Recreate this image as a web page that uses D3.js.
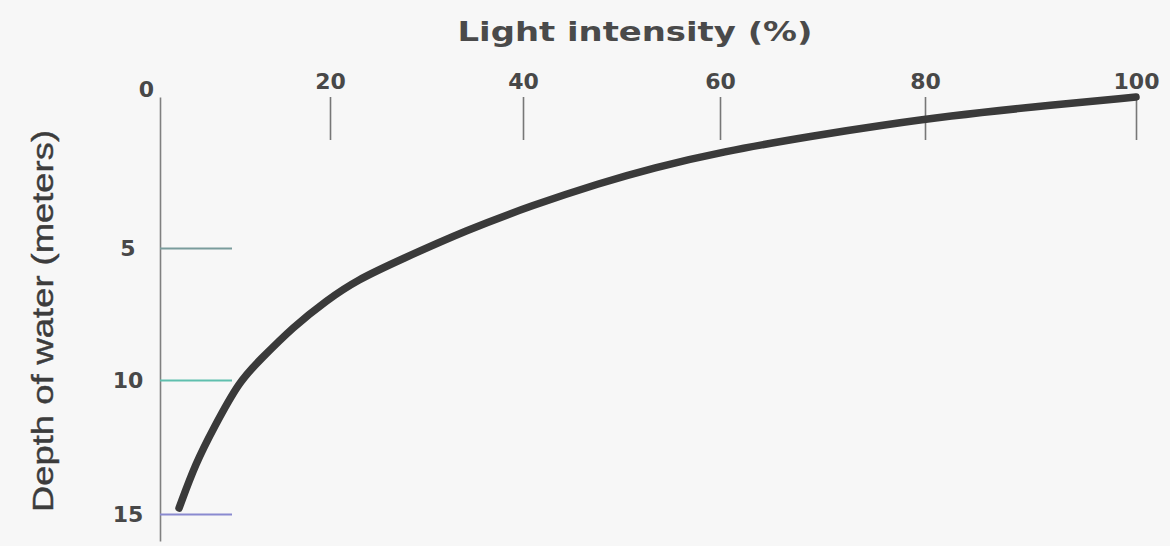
<!DOCTYPE html>
<html><head><meta charset="utf-8">
<script src="https://cdn.jsdelivr.net/npm/d3@7"></script>
<style>body{margin:0;background:#f7f7f7}svg{display:block}</style>
</head><body><svg id="c" width="1170" height="546"></svg>
<script>
// ---- data ----
const intensityTicks = [0, 20, 40, 60, 80, 100];
const depthTicks = [5, 10, 15];
const intensity = [100, 90.2, 82.2, 75.9, 69.5, 60, 53.2, 47.8, 41.0, 34.2, 27.25, 22.8, 19.65, 15.65, 11.76, 9.3, 6.3, 4.2, 2.24];
const depth     = [0,   0.33, 0.63, 0.93, 1.26, 1.82, 2.35, 2.85, 3.58, 4.40, 5.45, 6.21, 6.97, 7.99, 9.24, 10.05, 11.8, 13.10, 14.78];
const xTitle = "Light intensity (%)";
const yTitle = "Depth of water (meters)";

// ---- layout ----
const svg = d3.select("#c");
svg.append("rect").attr("width", 1170).attr("height", 546).attr("fill", "#f7f7f7");

// scanned original has slightly uneven spacing: piecewise scales
const x = d3.scaleLinear().domain([0, 20, 40, 60, 80, 100]).range([160, 330, 523, 720, 925, 1136]);
const y = d3.scaleLinear().domain([0, 5, 10, 15, 16]).range([97, 248, 380, 514, 541]);

const defs = svg.append("defs");
const grad = defs.append("linearGradient").attr("id", "xg").attr("x1", "0%").attr("x2", "100%");
grad.append("stop").attr("offset", "0%").attr("stop-color", "#b89a98");
grad.append("stop").attr("offset", "50%").attr("stop-color", "#b0a4a0");
grad.append("stop").attr("offset", "100%").attr("stop-color", "#98b8a0");

// x axis (top)
const xAxis = d3.axisTop(x).tickValues(intensityTicks).tickSizeInner(-43).tickSizeOuter(0).tickPadding(8);
const gx = svg.append("g").attr("transform", `translate(0,${y(0)})`).call(xAxis);
gx.select(".domain").attr("stroke", "url(#xg)").attr("stroke-width", 1.6);
gx.selectAll(".tick line").attr("stroke", "#777").attr("stroke-width", 1.6)
  .filter(d => d === 0).remove();
gx.selectAll(".tick text")
  .attr("font-family", "DejaVu Sans, sans-serif").attr("font-weight", "bold")
  .attr("font-size", 22).attr("fill", "#484848");
gx.selectAll(".tick").filter(d => d === 0).select("text")
  .attr("transform", "translate(-14,8)");

// y axis (left)
const yAxis = d3.axisLeft(y).tickValues(depthTicks).tickSizeInner(-72).tickSizeOuter(0).tickPadding(0);
const gy = svg.append("g").attr("transform", `translate(${x(0)},0)`).call(yAxis);
gy.select(".domain").attr("stroke", "#808080").attr("stroke-width", 1.6);
const tickColors = {5: "#7a9c9c", 10: "#5fbfae", 15: "#8a8ad0"};
gy.selectAll(".tick line").attr("stroke", d => tickColors[d]).attr("stroke-width", 1.8);
gy.selectAll(".tick text")
  .attr("x", -32).attr("text-anchor", "middle")
  .attr("font-family", "DejaVu Sans, sans-serif").attr("font-weight", "bold")
  .attr("font-size", 22).attr("fill", "#484848");

// curve
const pts = intensity.map((v, i) => ({i: v, d: depth[i]}));
const line = d3.line().x(p => x(p.i)).y(p => y(p.d)).curve(d3.curveBasis);
svg.append("path").datum(pts).attr("d", line)
  .attr("fill", "none").attr("stroke", "#3a3a3a").attr("stroke-width", 7.5)
  .attr("stroke-linecap", "round");

// titles
svg.append("text").attr("x", 635).attr("y", 41).attr("text-anchor", "middle")
  .attr("font-family", "DejaVu Sans, sans-serif").attr("font-weight", "bold")
  .attr("font-size", 27).attr("fill", "#4a4a4a")
  .attr("textLength", 355).attr("lengthAdjust", "spacingAndGlyphs")
  .text(xTitle);

svg.append("text").attr("transform", "translate(53,321) rotate(-90)").attr("text-anchor", "middle")
  .attr("font-family", "Liberation Sans Narrow, Liberation Sans, Arial, sans-serif")
  .attr("font-size", 30).attr("fill", "#3c3c3c").attr("stroke", "#3c3c3c").attr("stroke-width", 0.4)
  .attr("textLength", 382).attr("lengthAdjust", "spacingAndGlyphs")
  .text(yTitle);
</script>
</body></html>
